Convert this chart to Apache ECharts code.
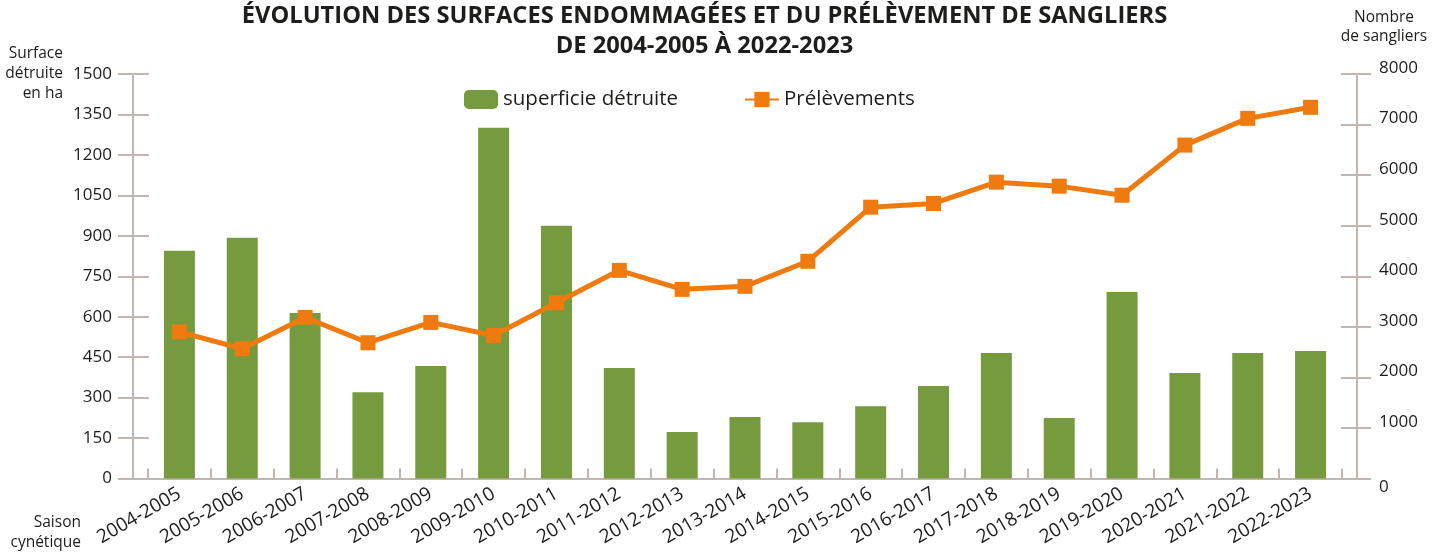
<!DOCTYPE html>
<html>
<head>
<meta charset="utf-8">
<script src="https://cdn.jsdelivr.net/npm/echarts@6/dist/echarts.min.js"></script>
<style>
  html, body { margin: 0; padding: 0; background: #ffffff; }
  #chart { width: 1446px; height: 558px; }
</style>
</head>
<body>
<div id="chart"></div>
<script>
// Saisons de chasse
const saisons = [
  '2004-2005', '2005-2006', '2006-2007', '2007-2008', '2008-2009',
  '2009-2010', '2010-2011', '2011-2012', '2012-2013', '2013-2014',
  '2014-2015', '2015-2016', '2016-2017', '2017-2018', '2018-2019',
  '2019-2020', '2020-2021', '2021-2022', '2022-2023'
];

// Surface détruite (ha)
const superficieDetruite = [
  845, 893, 614, 320, 417, 1301, 937, 410, 172, 228,
  209, 268, 343, 465, 224, 692, 391, 465, 473
];

// Nombre de sangliers prélevés
const prelevements = [
  2900, 2566, 3186, 2685, 3087, 2829, 3477, 4117, 3741, 3800,
  4296, 5366, 5439, 5861, 5782, 5603, 6594, 7123, 7341
];

// Graduations des axes
const axeSurface = { min: 0, max: 1500, interval: 150 };
const axeSangliers = { min: 0, max: 8000, interval: 1000 };

const FONT = '"Open Sans", "Liberation Sans", sans-serif';
const TEXT = '#1d1d1b';
const AXIS = '#c3b6b1';
const VERT = '#769b3e';
const ORANGE = '#ef7a10';

const gridBox = { left: 148, right: 104, top: 74, bottom: 79.5 };

const chart = echarts.init(document.getElementById('chart'), null, { renderer: 'canvas' });

chart.setOption({
  backgroundColor: '#ffffff',
  animation: false,
  textStyle: { fontFamily: FONT, color: TEXT },
  title: [
    {
      text: 'ÉVOLUTION DES SURFACES ENDOMMAGÉES ET DU PRÉLÈVEMENT DE SANGLIERS\nDE 2004-2005 À 2022-2023',
      left: 704.5,
      top: 1,
      padding: 0,
      textAlign: 'center',
      textStyle: {
        fontFamily: FONT,
        fontSize: 23.7,
        fontWeight: 'bold',
        color: TEXT,
        lineHeight: 30
      }
    },
    {
      // titre de l'axe de gauche
      text: 'Surface\ndétruite\nen ha',
      left: 63,
      top: 44,
      padding: 0,
      textAlign: 'right',
      textStyle: { fontFamily: FONT, fontSize: 15.5, fontWeight: 'normal', color: TEXT, lineHeight: 20 }
    },
    {
      // titre de l'axe des saisons
      text: 'Saison\ncynétique',
      left: 81,
      top: 513,
      padding: 0,
      textAlign: 'right',
      textStyle: { fontFamily: FONT, fontSize: 15.5, fontWeight: 'normal', color: TEXT, lineHeight: 20 }
    }
  ],
  legend: {
    left: 464,
    top: 89,
    padding: 0,
    itemWidth: 34,
    itemHeight: 19,
    itemGap: 66,
    textStyle: { fontFamily: FONT, fontSize: 20.5, color: TEXT },
    data: ['superficie détruite', 'Prélèvements']
  },
  grid: [
    gridBox,
    { left: 133, right: 89, top: 74, bottom: 79.5 }
  ],
  xAxis: [
    {
      type: 'category',
      gridIndex: 0,
      data: saisons,
      boundaryGap: true,
      axisLine: { show: false },
      axisTick: { show: true, inside: true, length: 10, lineStyle: { color: AXIS, width: 2 } },
      axisLabel: {
        rotate: 30, fontSize: 19, color: TEXT, fontFamily: FONT, margin: 14, interval: 0
      },
      splitLine: { show: false }
    },
    {
      // ligne de base sur toute la largeur entre les deux axes verticaux
      type: 'value',
      gridIndex: 1,
      min: 0, max: 1,
      axisLine: { show: true, lineStyle: { color: AXIS, width: 2 } },
      axisTick: { show: false },
      axisLabel: { show: false },
      splitLine: { show: false }
    }
  ],
  yAxis: [
    {
      type: 'value',
      gridIndex: 0,
      position: 'left',
      offset: 15,
      min: axeSurface.min, max: axeSurface.max, interval: axeSurface.interval,
      axisLine: { show: true, lineStyle: { color: AXIS, width: 2 } },
      axisTick: { show: true, inside: false, length: 15, lineStyle: { color: AXIS, width: 2 } },
      axisLabel: {
        fontSize: 17, color: TEXT, fontFamily: FONT, margin: 21,
        formatter: function (v) { return String(v); }
      },
      splitLine: { show: false }
    },
    {
      type: 'value',
      gridIndex: 0,
      position: 'right',
      offset: 15,
      min: axeSangliers.min, max: axeSangliers.max, interval: axeSangliers.interval,
      name: 'Nombre\nde sangliers',
      nameLocation: 'end',
      nameGap: 47,
      nameTextStyle: {
        fontFamily: FONT, fontSize: 15.5, color: TEXT,
        align: 'center', verticalAlign: 'middle', lineHeight: 19,
        padding: [0, 0, 0, 54]
      },
      axisLine: { show: true, lineStyle: { color: AXIS, width: 2 } },
      axisTick: { show: true, inside: false, length: 14, lineStyle: { color: AXIS, width: 2 } },
      axisLabel: {
        fontSize: 17, color: TEXT, fontFamily: FONT, margin: 22,
        formatter: function (v) { return v === 0 ? '{z|0}' : '{a|' + v + '}'; },
        rich: {
          a: { fontSize: 17, color: TEXT, fontFamily: FONT, padding: [0, 0, 12, 0] },
          z: { fontSize: 17, color: TEXT, fontFamily: FONT, padding: [18, 0, 0, 0] }
        }
      },
      splitLine: { show: false }
    },
    {
      // graduations côté intérieur, axe de gauche
      type: 'value',
      gridIndex: 0,
      position: 'left',
      offset: 15,
      min: axeSurface.min, max: axeSurface.max, interval: axeSurface.interval,
      axisLine: { show: false },
      axisTick: { show: true, inside: true, length: 16, lineStyle: { color: AXIS, width: 2 } },
      axisLabel: { show: false },
      splitLine: { show: false }
    },
    {
      // graduations côté intérieur, axe de droite
      type: 'value',
      gridIndex: 0,
      position: 'right',
      offset: 15,
      min: axeSangliers.min, max: axeSangliers.max, interval: axeSangliers.interval,
      axisLine: { show: false },
      axisTick: { show: true, inside: true, length: 16, lineStyle: { color: AXIS, width: 2 } },
      axisLabel: { show: false },
      splitLine: { show: false }
    },
    {
      type: 'value',
      gridIndex: 1,
      show: false,
      min: 0, max: 1
    }
  ],
  series: [
    {
      name: 'superficie détruite',
      type: 'bar',
      xAxisIndex: 0,
      yAxisIndex: 0,
      data: superficieDetruite,
      barWidth: 31,
      itemStyle: { color: VERT },
      z: 2
    },
    {
      name: 'Prélèvements',
      type: 'line',
      xAxisIndex: 0,
      yAxisIndex: 1,
      data: prelevements,
      symbol: 'rect',
      symbolSize: 15,
      showSymbol: true,
      lineStyle: { color: ORANGE, width: 5 },
      itemStyle: { color: ORANGE },
      z: 3
    }
  ]
});
</script>
</body>
</html>
